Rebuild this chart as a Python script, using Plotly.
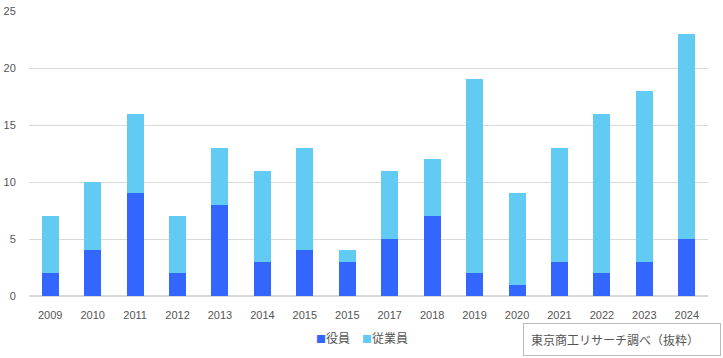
import plotly.graph_objects as go

years = ["2009", "2010", "2011", "2012", "2013", "2014", "2015", "2015",
         "2017", "2018", "2019", "2020", "2021", "2022", "2023", "2024"]
officers = [2, 4, 9, 2, 8, 3, 4, 3, 5, 7, 2, 1, 3, 2, 3, 5]
employees = [5, 6, 7, 5, 5, 8, 9, 1, 6, 5, 17, 8, 10, 14, 15, 18]
y_ticks = [0, 5, 10, 15, 20, 25]

series_names = ["役員", "従業員"]
series_colors = ["#3366ff", "#62cbf3"]

xpos = list(range(len(years)))

fig = go.Figure()
for name, vals, color in zip(series_names, [officers, employees], series_colors):
    fig.add_trace(go.Bar(x=xpos, y=vals, name=name, marker_color=color,
                         width=0.4, marker_line_width=0))

legend_text = "\u3000".join(
    f"<span style='color:{c};font-size:10px'>■</span>{n}"
    for n, c in zip(series_names, series_colors)
)

font_family = "Liberation Sans, Arial, Noto Sans CJK JP, sans-serif"
fig.update_layout(
    barmode="stack",
    width=723, height=358,
    margin=dict(l=29, r=15, t=11, b=62, autoexpand=False),
    paper_bgcolor="white", plot_bgcolor="white",
    font=dict(family=font_family, size=11, color="#555555"),
    showlegend=False,
    xaxis=dict(tickmode="array", tickvals=xpos, ticktext=years,
               range=[-0.5, len(years) - 0.5], showgrid=False,
               ticks="outside", ticklen=9, tickcolor="rgba(0,0,0,0)",
               showline=False, tickfont=dict(size=11, color="#555555")),
    yaxis=dict(range=[0, 25], tickvals=y_ticks, showgrid=True, gridcolor="#d9d9d9",
               gridwidth=1, zeroline=True, zerolinecolor="#d9d9d9",
               ticks="outside", ticklen=10, tickcolor="rgba(0,0,0,0)",
               showline=False, tickfont=dict(size=11, color="#555555")),
    annotations=[
        dict(text=legend_text, xref="paper", yref="paper",
             x=0.4904, xanchor="center", y=-0.1456, yanchor="middle",
             showarrow=False,
             font=dict(size=12, color="#555555", family="Noto Sans CJK JP, sans-serif")),
        dict(text="東京商工リサーチ調べ（抜粋）", xref="paper", yref="paper",
             x=0.8733, xanchor="center", y=-0.1526, yanchor="middle",
             showarrow=False, align="left", width=182, height=17,
             bordercolor="#bbbbbb", borderwidth=1, borderpad=7,
             font=dict(size=12, color="#555555", family="Noto Sans CJK JP, sans-serif")),
    ],
)

fig.write_html("out.html", config={"displayModeBar": False},
               post_script="document.body.style.margin='0';")
